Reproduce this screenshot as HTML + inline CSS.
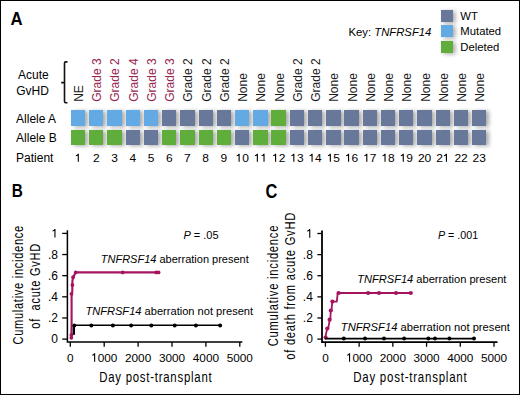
<!DOCTYPE html>
<html><head><meta charset="utf-8"><style>
html,body{margin:0;padding:0;background:#fff;}
body{width:520px;height:395px;overflow:hidden;position:relative;font-family:"Liberation Sans", sans-serif;}
#frame{position:absolute;left:0;top:0;width:520px;height:395px;box-sizing:border-box;border:1px solid #000;}
.sq{position:absolute;box-shadow:2.5px 1.2px 4px rgba(0,0,0,0.33);}
svg{position:absolute;left:0;top:0;}
</style></head><body>

<div class="sq" style="left:70.85px;top:110.30px;width:14.3px;height:15.9px;background:#63a9e4"></div>
<div class="sq" style="left:70.85px;top:129.60px;width:14.3px;height:15.3px;background:#5fad3a"></div>
<div class="sq" style="left:89.09px;top:110.30px;width:14.3px;height:15.9px;background:#63a9e4"></div>
<div class="sq" style="left:89.09px;top:129.60px;width:14.3px;height:15.3px;background:#5fad3a"></div>
<div class="sq" style="left:107.33px;top:110.30px;width:14.3px;height:15.9px;background:#63a9e4"></div>
<div class="sq" style="left:107.33px;top:129.60px;width:14.3px;height:15.3px;background:#5fad3a"></div>
<div class="sq" style="left:125.57px;top:110.30px;width:14.3px;height:15.9px;background:#63a9e4"></div>
<div class="sq" style="left:125.57px;top:129.60px;width:14.3px;height:15.3px;background:#67789b"></div>
<div class="sq" style="left:143.81px;top:110.30px;width:14.3px;height:15.9px;background:#63a9e4"></div>
<div class="sq" style="left:143.81px;top:129.60px;width:14.3px;height:15.3px;background:#67789b"></div>
<div class="sq" style="left:162.05px;top:110.30px;width:14.3px;height:15.9px;background:#67789b"></div>
<div class="sq" style="left:162.05px;top:129.60px;width:14.3px;height:15.3px;background:#5fad3a"></div>
<div class="sq" style="left:180.29px;top:110.30px;width:14.3px;height:15.9px;background:#67789b"></div>
<div class="sq" style="left:180.29px;top:129.60px;width:14.3px;height:15.3px;background:#5fad3a"></div>
<div class="sq" style="left:198.53px;top:110.30px;width:14.3px;height:15.9px;background:#67789b"></div>
<div class="sq" style="left:198.53px;top:129.60px;width:14.3px;height:15.3px;background:#5fad3a"></div>
<div class="sq" style="left:216.77px;top:110.30px;width:14.3px;height:15.9px;background:#67789b"></div>
<div class="sq" style="left:216.77px;top:129.60px;width:14.3px;height:15.3px;background:#5fad3a"></div>
<div class="sq" style="left:235.01px;top:110.30px;width:14.3px;height:15.9px;background:#63a9e4"></div>
<div class="sq" style="left:235.01px;top:129.60px;width:14.3px;height:15.3px;background:#67789b"></div>
<div class="sq" style="left:253.25px;top:110.30px;width:14.3px;height:15.9px;background:#63a9e4"></div>
<div class="sq" style="left:253.25px;top:129.60px;width:14.3px;height:15.3px;background:#5fad3a"></div>
<div class="sq" style="left:271.49px;top:110.30px;width:14.3px;height:15.9px;background:#5fad3a"></div>
<div class="sq" style="left:271.49px;top:129.60px;width:14.3px;height:15.3px;background:#5fad3a"></div>
<div class="sq" style="left:289.73px;top:110.30px;width:14.3px;height:15.9px;background:#67789b"></div>
<div class="sq" style="left:289.73px;top:129.60px;width:14.3px;height:15.3px;background:#67789b"></div>
<div class="sq" style="left:307.97px;top:110.30px;width:14.3px;height:15.9px;background:#67789b"></div>
<div class="sq" style="left:307.97px;top:129.60px;width:14.3px;height:15.3px;background:#67789b"></div>
<div class="sq" style="left:326.21px;top:110.30px;width:14.3px;height:15.9px;background:#67789b"></div>
<div class="sq" style="left:326.21px;top:129.60px;width:14.3px;height:15.3px;background:#67789b"></div>
<div class="sq" style="left:344.45px;top:110.30px;width:14.3px;height:15.9px;background:#67789b"></div>
<div class="sq" style="left:344.45px;top:129.60px;width:14.3px;height:15.3px;background:#67789b"></div>
<div class="sq" style="left:362.69px;top:110.30px;width:14.3px;height:15.9px;background:#67789b"></div>
<div class="sq" style="left:362.69px;top:129.60px;width:14.3px;height:15.3px;background:#67789b"></div>
<div class="sq" style="left:380.93px;top:110.30px;width:14.3px;height:15.9px;background:#67789b"></div>
<div class="sq" style="left:380.93px;top:129.60px;width:14.3px;height:15.3px;background:#67789b"></div>
<div class="sq" style="left:399.17px;top:110.30px;width:14.3px;height:15.9px;background:#67789b"></div>
<div class="sq" style="left:399.17px;top:129.60px;width:14.3px;height:15.3px;background:#67789b"></div>
<div class="sq" style="left:417.41px;top:110.30px;width:14.3px;height:15.9px;background:#67789b"></div>
<div class="sq" style="left:417.41px;top:129.60px;width:14.3px;height:15.3px;background:#67789b"></div>
<div class="sq" style="left:435.65px;top:110.30px;width:14.3px;height:15.9px;background:#67789b"></div>
<div class="sq" style="left:435.65px;top:129.60px;width:14.3px;height:15.3px;background:#67789b"></div>
<div class="sq" style="left:453.89px;top:110.30px;width:14.3px;height:15.9px;background:#67789b"></div>
<div class="sq" style="left:453.89px;top:129.60px;width:14.3px;height:15.3px;background:#67789b"></div>
<div class="sq" style="left:472.13px;top:110.30px;width:14.3px;height:15.9px;background:#67789b"></div>
<div class="sq" style="left:472.13px;top:129.60px;width:14.3px;height:15.3px;background:#67789b"></div>
<div class="sq" style="left:440.6px;top:9.8px;width:12.2px;height:11.8px;background:#67789b"></div>
<div class="sq" style="left:440.6px;top:25.0px;width:12.2px;height:11.8px;background:#63a9e4"></div>
<div class="sq" style="left:440.6px;top:41.0px;width:12.2px;height:11.8px;background:#5fad3a"></div>
<svg width="520" height="395" viewBox="0 0 520 395" font-family='"Liberation Sans", sans-serif'>
<text transform="translate(10.5,24.8) scale(0.93,1)" font-size="18" font-weight="bold">A</text>
<text transform="translate(11.7,196.9) scale(0.85,1)" font-size="18" font-weight="bold">B</text>
<text transform="translate(265.4,197.6) scale(0.8,1)" font-size="20.5" font-weight="bold">C</text>
<text x="348.5" y="35.8" font-size="11.3">Key: <tspan font-style="italic">TNFRSF14</tspan></text>
<text x="460.3" y="19.6" font-size="11.3">WT</text>
<text x="460.3" y="34.9" font-size="11.3">Mutated</text>
<text x="460.3" y="50.9" font-size="11.3">Deleted</text>
<text x="33.4" y="79.1" font-size="12" text-anchor="middle">Acute</text>
<text x="32.5" y="94.6" font-size="12" text-anchor="middle">GvHD</text>
<path d="M67.5,61.9 H65.7 Q64.5,61.9 64.5,63.1 V101.5 Q64.5,102.7 65.7,102.7 H67.5 M64.5,82.6 H61.2" fill="none" stroke="#111" stroke-width="1.6"/>
<text transform="translate(83.00,101.8) rotate(-90)" font-size="12" fill="#1a1a1a">NE</text>
<text transform="translate(101.24,101.8) rotate(-90)" font-size="12" fill="#962650">Grade 3</text>
<text transform="translate(119.48,101.8) rotate(-90)" font-size="12" fill="#962650">Grade 2</text>
<text transform="translate(137.72,101.8) rotate(-90)" font-size="12" fill="#962650">Grade 4</text>
<text transform="translate(155.96,101.8) rotate(-90)" font-size="12" fill="#962650">Grade 3</text>
<text transform="translate(174.20,101.8) rotate(-90)" font-size="12" fill="#962650">Grade 3</text>
<text transform="translate(192.44,101.8) rotate(-90)" font-size="12" fill="#1a1a1a">Grade 2</text>
<text transform="translate(210.68,101.8) rotate(-90)" font-size="12" fill="#1a1a1a">Grade 2</text>
<text transform="translate(228.92,101.8) rotate(-90)" font-size="12" fill="#1a1a1a">Grade 2</text>
<text transform="translate(247.16,101.8) rotate(-90)" font-size="12" fill="#1a1a1a">None</text>
<text transform="translate(265.40,101.8) rotate(-90)" font-size="12" fill="#1a1a1a">None</text>
<text transform="translate(283.64,101.8) rotate(-90)" font-size="12" fill="#1a1a1a">None</text>
<text transform="translate(301.88,101.8) rotate(-90)" font-size="12" fill="#1a1a1a">Grade 2</text>
<text transform="translate(320.12,101.8) rotate(-90)" font-size="12" fill="#1a1a1a">Grade 2</text>
<text transform="translate(338.36,101.8) rotate(-90)" font-size="12" fill="#1a1a1a">None</text>
<text transform="translate(356.60,101.8) rotate(-90)" font-size="12" fill="#1a1a1a">None</text>
<text transform="translate(374.84,101.8) rotate(-90)" font-size="12" fill="#1a1a1a">None</text>
<text transform="translate(393.08,101.8) rotate(-90)" font-size="12" fill="#1a1a1a">None</text>
<text transform="translate(411.32,101.8) rotate(-90)" font-size="12" fill="#1a1a1a">None</text>
<text transform="translate(429.56,101.8) rotate(-90)" font-size="12" fill="#1a1a1a">None</text>
<text transform="translate(447.80,101.8) rotate(-90)" font-size="12" fill="#1a1a1a">None</text>
<text transform="translate(466.04,101.8) rotate(-90)" font-size="12" fill="#1a1a1a">None</text>
<text transform="translate(484.28,101.8) rotate(-90)" font-size="12" fill="#1a1a1a">None</text>
<text x="16.1" y="122.6" font-size="12">Allele A</text>
<text x="16.1" y="141.5" font-size="12">Allele B</text>
<text x="16.1" y="161.6" font-size="12">Patient</text>
<g transform="translate(78.00,161.70) scale(1.09,1)"><path d="M-1.96,-6.03 Q-0.18,-6.32 0.26,-7.83 V0" fill="none" stroke="#000" stroke-width="1.01"/></g>
<g transform="translate(96.24,161.70) scale(1.09,1)"><text x="-3.06" y="0" font-size="11" fill="#000">2</text></g>
<g transform="translate(114.48,161.70) scale(1.09,1)"><text x="-3.06" y="0" font-size="11" fill="#000">3</text></g>
<g transform="translate(132.72,161.70) scale(1.09,1)"><text x="-3.06" y="0" font-size="11" fill="#000">4</text></g>
<g transform="translate(150.96,161.70) scale(1.09,1)"><text x="-3.06" y="0" font-size="11" fill="#000">5</text></g>
<g transform="translate(169.20,161.70) scale(1.09,1)"><text x="-3.06" y="0" font-size="11" fill="#000">6</text></g>
<g transform="translate(187.44,161.70) scale(1.09,1)"><text x="-3.06" y="0" font-size="11" fill="#000">7</text></g>
<g transform="translate(205.68,161.70) scale(1.09,1)"><text x="-3.06" y="0" font-size="11" fill="#000">8</text></g>
<g transform="translate(223.92,161.70) scale(1.09,1)"><text x="-3.06" y="0" font-size="11" fill="#000">9</text></g>
<g transform="translate(242.16,161.70) scale(1.09,1)"><path d="M-5.02,-6.03 Q-3.23,-6.32 -2.79,-7.83 V0" fill="none" stroke="#000" stroke-width="1.01"/><text x="0.00" y="0" font-size="11" fill="#000">0</text></g>
<g transform="translate(260.40,161.70) scale(1.09,1)"><path d="M-5.02,-6.03 Q-3.23,-6.32 -2.79,-7.83 V0" fill="none" stroke="#000" stroke-width="1.01"/><path d="M1.10,-6.03 Q2.88,-6.32 3.32,-7.83 V0" fill="none" stroke="#000" stroke-width="1.01"/></g>
<g transform="translate(278.64,161.70) scale(1.09,1)"><path d="M-5.02,-6.03 Q-3.23,-6.32 -2.79,-7.83 V0" fill="none" stroke="#000" stroke-width="1.01"/><text x="0.00" y="0" font-size="11" fill="#000">2</text></g>
<g transform="translate(296.88,161.70) scale(1.09,1)"><path d="M-5.02,-6.03 Q-3.23,-6.32 -2.79,-7.83 V0" fill="none" stroke="#000" stroke-width="1.01"/><text x="0.00" y="0" font-size="11" fill="#000">3</text></g>
<g transform="translate(315.12,161.70) scale(1.09,1)"><path d="M-5.02,-6.03 Q-3.23,-6.32 -2.79,-7.83 V0" fill="none" stroke="#000" stroke-width="1.01"/><text x="0.00" y="0" font-size="11" fill="#000">4</text></g>
<g transform="translate(333.36,161.70) scale(1.09,1)"><path d="M-5.02,-6.03 Q-3.23,-6.32 -2.79,-7.83 V0" fill="none" stroke="#000" stroke-width="1.01"/><text x="0.00" y="0" font-size="11" fill="#000">5</text></g>
<g transform="translate(351.60,161.70) scale(1.09,1)"><path d="M-5.02,-6.03 Q-3.23,-6.32 -2.79,-7.83 V0" fill="none" stroke="#000" stroke-width="1.01"/><text x="0.00" y="0" font-size="11" fill="#000">6</text></g>
<g transform="translate(369.84,161.70) scale(1.09,1)"><path d="M-5.02,-6.03 Q-3.23,-6.32 -2.79,-7.83 V0" fill="none" stroke="#000" stroke-width="1.01"/><text x="0.00" y="0" font-size="11" fill="#000">7</text></g>
<g transform="translate(388.08,161.70) scale(1.09,1)"><path d="M-5.02,-6.03 Q-3.23,-6.32 -2.79,-7.83 V0" fill="none" stroke="#000" stroke-width="1.01"/><text x="0.00" y="0" font-size="11" fill="#000">8</text></g>
<g transform="translate(406.32,161.70) scale(1.09,1)"><path d="M-5.02,-6.03 Q-3.23,-6.32 -2.79,-7.83 V0" fill="none" stroke="#000" stroke-width="1.01"/><text x="0.00" y="0" font-size="11" fill="#000">9</text></g>
<g transform="translate(424.56,161.70) scale(1.09,1)"><text x="-6.12" y="0" font-size="11" fill="#000">2</text><text x="0.00" y="0" font-size="11" fill="#000">0</text></g>
<g transform="translate(442.80,161.70) scale(1.09,1)"><text x="-6.12" y="0" font-size="11" fill="#000">2</text><path d="M1.10,-6.03 Q2.88,-6.32 3.32,-7.83 V0" fill="none" stroke="#000" stroke-width="1.01"/></g>
<g transform="translate(461.04,161.70) scale(1.09,1)"><text x="-6.12" y="0" font-size="11" fill="#000">2</text><text x="0.00" y="0" font-size="11" fill="#000">2</text></g>
<g transform="translate(479.28,161.70) scale(1.09,1)"><text x="-6.12" y="0" font-size="11" fill="#000">2</text><text x="0.00" y="0" font-size="11" fill="#000">3</text></g>
<path d="M67.4,230.3 V342.1 H242.3" fill="none" stroke="#000" stroke-width="1.5"/>
<path d="M62.20,339.10 H67.4" stroke="#000" stroke-width="1.3"/>
<g transform="translate(58.00,343.30) scale(1.0,1)"><text x="-6.67" y="0" font-size="12" fill="#000">0</text></g>
<path d="M62.20,317.96 H67.4" stroke="#000" stroke-width="1.3"/>
<g transform="translate(58.00,322.16) scale(1.0,1)"><text x="-10.01" y="0" font-size="12" fill="#000">.</text><text x="-6.67" y="0" font-size="12" fill="#000">2</text></g>
<path d="M62.20,296.82 H67.4" stroke="#000" stroke-width="1.3"/>
<g transform="translate(58.00,301.02) scale(1.0,1)"><text x="-10.01" y="0" font-size="12" fill="#000">.</text><text x="-6.67" y="0" font-size="12" fill="#000">4</text></g>
<path d="M62.20,275.68 H67.4" stroke="#000" stroke-width="1.3"/>
<g transform="translate(58.00,279.88) scale(1.0,1)"><text x="-10.01" y="0" font-size="12" fill="#000">.</text><text x="-6.67" y="0" font-size="12" fill="#000">6</text></g>
<path d="M62.20,254.54 H67.4" stroke="#000" stroke-width="1.3"/>
<g transform="translate(58.00,258.74) scale(1.0,1)"><text x="-10.01" y="0" font-size="12" fill="#000">.</text><text x="-6.67" y="0" font-size="12" fill="#000">8</text></g>
<path d="M62.20,233.40 H67.4" stroke="#000" stroke-width="1.3"/>
<g transform="translate(58.00,237.60) scale(1.0,1)"><path d="M-5.47,-6.58 Q-3.53,-6.90 -3.05,-8.54 V0" fill="none" stroke="#000" stroke-width="1.10"/></g>
<path d="M70.30,342.1 V346.80" stroke="#000" stroke-width="1.3"/>
<g transform="translate(70.30,361.70) scale(1.0,1)"><text x="-3.28" y="0" font-size="11.8" fill="#000">0</text></g>
<path d="M104.20,342.1 V346.80" stroke="#000" stroke-width="1.3"/>
<g transform="translate(104.20,361.70) scale(1.0,1)"><path d="M-11.94,-6.47 Q-10.03,-6.79 -9.56,-8.40 V0" fill="none" stroke="#000" stroke-width="1.09"/><text x="-6.56" y="0" font-size="11.8" fill="#000">0</text><text x="0.00" y="0" font-size="11.8" fill="#000">0</text><text x="6.56" y="0" font-size="11.8" fill="#000">0</text></g>
<path d="M138.10,342.1 V346.80" stroke="#000" stroke-width="1.3"/>
<g transform="translate(138.10,361.70) scale(1.0,1)"><text x="-13.12" y="0" font-size="11.8" fill="#000">2</text><text x="-6.56" y="0" font-size="11.8" fill="#000">0</text><text x="0.00" y="0" font-size="11.8" fill="#000">0</text><text x="6.56" y="0" font-size="11.8" fill="#000">0</text></g>
<path d="M172.00,342.1 V346.80" stroke="#000" stroke-width="1.3"/>
<g transform="translate(172.00,361.70) scale(1.0,1)"><text x="-13.12" y="0" font-size="11.8" fill="#000">3</text><text x="-6.56" y="0" font-size="11.8" fill="#000">0</text><text x="0.00" y="0" font-size="11.8" fill="#000">0</text><text x="6.56" y="0" font-size="11.8" fill="#000">0</text></g>
<path d="M205.90,342.1 V346.80" stroke="#000" stroke-width="1.3"/>
<g transform="translate(205.90,361.70) scale(1.0,1)"><text x="-13.12" y="0" font-size="11.8" fill="#000">4</text><text x="-6.56" y="0" font-size="11.8" fill="#000">0</text><text x="0.00" y="0" font-size="11.8" fill="#000">0</text><text x="6.56" y="0" font-size="11.8" fill="#000">0</text></g>
<path d="M239.80,342.1 V346.80" stroke="#000" stroke-width="1.3"/>
<g transform="translate(239.80,361.70) scale(1.0,1)"><text x="-13.12" y="0" font-size="11.8" fill="#000">5</text><text x="-6.56" y="0" font-size="11.8" fill="#000">0</text><text x="0.00" y="0" font-size="11.8" fill="#000">0</text><text x="6.56" y="0" font-size="11.8" fill="#000">0</text></g>
<polyline points="71.4,339.0 71.6,320 71.6,296 72.3,291 72.4,281 73.1,277.2 75.7,272.4 159.6,272.4" fill="none" stroke="#a5145f" stroke-width="2.1" stroke-linejoin="round"/>
<circle cx="71.30" cy="337.80" r="1.9" fill="#a5145f"/>
<circle cx="71.40" cy="335.00" r="1.9" fill="#a5145f"/>
<circle cx="71.50" cy="293.80" r="1.9" fill="#a5145f"/>
<circle cx="72.40" cy="285.00" r="1.9" fill="#a5145f"/>
<circle cx="73.10" cy="277.20" r="1.9" fill="#a5145f"/>
<circle cx="75.70" cy="272.40" r="1.9" fill="#a5145f"/>
<circle cx="122.70" cy="272.40" r="1.9" fill="#a5145f"/>
<circle cx="156.20" cy="272.40" r="1.9" fill="#a5145f"/>
<circle cx="158.60" cy="272.40" r="1.9" fill="#a5145f"/>
<polyline points="73.9,334.6 73.9,325.3 220.3,325.3" fill="none" stroke="#000" stroke-width="1.6"/>
<path d="M73.9,334.6 V326" stroke="#000" stroke-width="2.3"/>
<circle cx="74.30" cy="325.50" r="2.0" fill="#000"/>
<circle cx="91.30" cy="325.40" r="2.0" fill="#000"/>
<circle cx="112.90" cy="325.40" r="2.0" fill="#000"/>
<circle cx="131.10" cy="325.40" r="2.0" fill="#000"/>
<circle cx="151.30" cy="325.40" r="2.0" fill="#000"/>
<circle cx="174.70" cy="325.40" r="2.0" fill="#000"/>
<circle cx="195.90" cy="325.40" r="2.0" fill="#000"/>
<circle cx="220.10" cy="325.40" r="2.0" fill="#000"/>
<text x="183.4" y="238.6" font-size="11"><tspan font-style="italic">P</tspan> = .05</text>
<text x="100.8" y="262.7" font-size="11"><tspan font-style="italic">TNFRSF14</tspan> aberration present</text>
<text x="85.4" y="315" font-size="11.1"><tspan font-style="italic">TNFRSF14</tspan> aberration not present</text>
<text transform="translate(155.8,381.6) scale(0.76,1)" font-size="15" letter-spacing="1" text-anchor="middle">Day post-transplant</text>
<text transform="translate(22.8,284.8) rotate(-90) scale(0.749,1)" font-size="14.7" letter-spacing="1" text-anchor="middle">Cumulative incidence</text>
<text transform="translate(40.1,285.9) rotate(-90) scale(0.748,1)" font-size="14.7" letter-spacing="1" text-anchor="middle" xml:space="preserve">of  acute GvHD</text>
<path d="M322.0,230.5 V342.1 H497.5" fill="none" stroke="#000" stroke-width="1.8"/>
<path d="M317.40,339.10 H322.0" stroke="#000" stroke-width="1.3"/>
<g transform="translate(312.80,343.30) scale(1.0,1)"><text x="-6.67" y="0" font-size="12" fill="#000">0</text></g>
<path d="M317.40,317.98 H322.0" stroke="#000" stroke-width="1.3"/>
<g transform="translate(312.80,322.18) scale(1.0,1)"><text x="-10.01" y="0" font-size="12" fill="#000">.</text><text x="-6.67" y="0" font-size="12" fill="#000">2</text></g>
<path d="M317.40,296.86 H322.0" stroke="#000" stroke-width="1.3"/>
<g transform="translate(312.80,301.06) scale(1.0,1)"><text x="-10.01" y="0" font-size="12" fill="#000">.</text><text x="-6.67" y="0" font-size="12" fill="#000">4</text></g>
<path d="M317.40,275.74 H322.0" stroke="#000" stroke-width="1.3"/>
<g transform="translate(312.80,279.94) scale(1.0,1)"><text x="-10.01" y="0" font-size="12" fill="#000">.</text><text x="-6.67" y="0" font-size="12" fill="#000">6</text></g>
<path d="M317.40,254.62 H322.0" stroke="#000" stroke-width="1.3"/>
<g transform="translate(312.80,258.82) scale(1.0,1)"><text x="-10.01" y="0" font-size="12" fill="#000">.</text><text x="-6.67" y="0" font-size="12" fill="#000">8</text></g>
<path d="M317.40,233.50 H322.0" stroke="#000" stroke-width="1.3"/>
<g transform="translate(312.80,237.70) scale(1.0,1)"><path d="M-5.47,-6.58 Q-3.53,-6.90 -3.05,-8.54 V0" fill="none" stroke="#000" stroke-width="1.10"/></g>
<path d="M325.40,342.1 V346.80" stroke="#000" stroke-width="1.3"/>
<g transform="translate(325.40,361.70) scale(1.0,1)"><text x="-3.28" y="0" font-size="11.8" fill="#000">0</text></g>
<path d="M359.12,342.1 V346.80" stroke="#000" stroke-width="1.3"/>
<g transform="translate(359.12,361.70) scale(1.0,1)"><path d="M-11.94,-6.47 Q-10.03,-6.79 -9.56,-8.40 V0" fill="none" stroke="#000" stroke-width="1.09"/><text x="-6.56" y="0" font-size="11.8" fill="#000">0</text><text x="0.00" y="0" font-size="11.8" fill="#000">0</text><text x="6.56" y="0" font-size="11.8" fill="#000">0</text></g>
<path d="M392.84,342.1 V346.80" stroke="#000" stroke-width="1.3"/>
<g transform="translate(392.84,361.70) scale(1.0,1)"><text x="-13.12" y="0" font-size="11.8" fill="#000">2</text><text x="-6.56" y="0" font-size="11.8" fill="#000">0</text><text x="0.00" y="0" font-size="11.8" fill="#000">0</text><text x="6.56" y="0" font-size="11.8" fill="#000">0</text></g>
<path d="M426.56,342.1 V346.80" stroke="#000" stroke-width="1.3"/>
<g transform="translate(426.56,361.70) scale(1.0,1)"><text x="-13.12" y="0" font-size="11.8" fill="#000">3</text><text x="-6.56" y="0" font-size="11.8" fill="#000">0</text><text x="0.00" y="0" font-size="11.8" fill="#000">0</text><text x="6.56" y="0" font-size="11.8" fill="#000">0</text></g>
<path d="M460.28,342.1 V346.80" stroke="#000" stroke-width="1.3"/>
<g transform="translate(460.28,361.70) scale(1.0,1)"><text x="-13.12" y="0" font-size="11.8" fill="#000">4</text><text x="-6.56" y="0" font-size="11.8" fill="#000">0</text><text x="0.00" y="0" font-size="11.8" fill="#000">0</text><text x="6.56" y="0" font-size="11.8" fill="#000">0</text></g>
<path d="M494.00,342.1 V346.80" stroke="#000" stroke-width="1.3"/>
<g transform="translate(494.00,361.70) scale(1.0,1)"><text x="-13.12" y="0" font-size="11.8" fill="#000">5</text><text x="-6.56" y="0" font-size="11.8" fill="#000">0</text><text x="0.00" y="0" font-size="11.8" fill="#000">0</text><text x="6.56" y="0" font-size="11.8" fill="#000">0</text></g>
<polyline points="325.1,338.5 327.2,328.4 328.2,328.4 329.8,319.7 330.3,319.7 330.8,310.3 331.5,310.3 332.3,301.6 336.8,301.6 337.7,293.0 410.8,293.0" fill="none" stroke="#a5145f" stroke-width="1.8" stroke-linejoin="round"/>
<circle cx="325.60" cy="337.50" r="2.1" fill="#a5145f"/>
<circle cx="327.30" cy="328.50" r="2.1" fill="#a5145f"/>
<circle cx="329.60" cy="319.70" r="2.1" fill="#a5145f"/>
<circle cx="330.80" cy="310.50" r="2.1" fill="#a5145f"/>
<circle cx="332.40" cy="301.60" r="2.1" fill="#a5145f"/>
<circle cx="338.60" cy="293.00" r="2.1" fill="#a5145f"/>
<circle cx="368.10" cy="293.00" r="2.1" fill="#a5145f"/>
<circle cx="379.00" cy="293.00" r="2.1" fill="#a5145f"/>
<circle cx="396.00" cy="293.00" r="2.1" fill="#a5145f"/>
<circle cx="410.80" cy="293.00" r="2.1" fill="#a5145f"/>
<path d="M325,338.6 H474" stroke="#000" stroke-width="1.6"/>
<circle cx="343.80" cy="338.60" r="2.0" fill="#000"/>
<circle cx="365.00" cy="338.60" r="2.0" fill="#000"/>
<circle cx="384.00" cy="338.60" r="2.0" fill="#000"/>
<circle cx="404.20" cy="338.60" r="2.0" fill="#000"/>
<circle cx="428.30" cy="338.60" r="2.0" fill="#000"/>
<circle cx="435.00" cy="338.60" r="2.0" fill="#000"/>
<circle cx="449.40" cy="338.60" r="2.0" fill="#000"/>
<circle cx="474.00" cy="338.60" r="2.0" fill="#000"/>
<text x="438" y="239" font-size="10.7"><tspan font-style="italic">P</tspan> = .001</text>
<text x="357.2" y="283.2" font-size="11.1"><tspan font-style="italic">TNFRSF14</tspan> aberration present</text>
<text x="340.8" y="330.5" font-size="11.2"><tspan font-style="italic">TNFRSF14</tspan> aberration not present</text>
<text transform="translate(410.3,381.6) scale(0.767,1)" font-size="15" letter-spacing="1" text-anchor="middle">Day post-transplant</text>
<text transform="translate(278.2,285.6) rotate(-90) scale(0.762,1)" font-size="14.7" letter-spacing="1" text-anchor="middle">Cumulative incidence</text>
<text transform="translate(295.2,285.85) rotate(-90) scale(0.76,1)" font-size="14.7" letter-spacing="1" text-anchor="middle">of death from acute GvHD</text>
</svg>
<div id="frame"></div>
</body></html>
